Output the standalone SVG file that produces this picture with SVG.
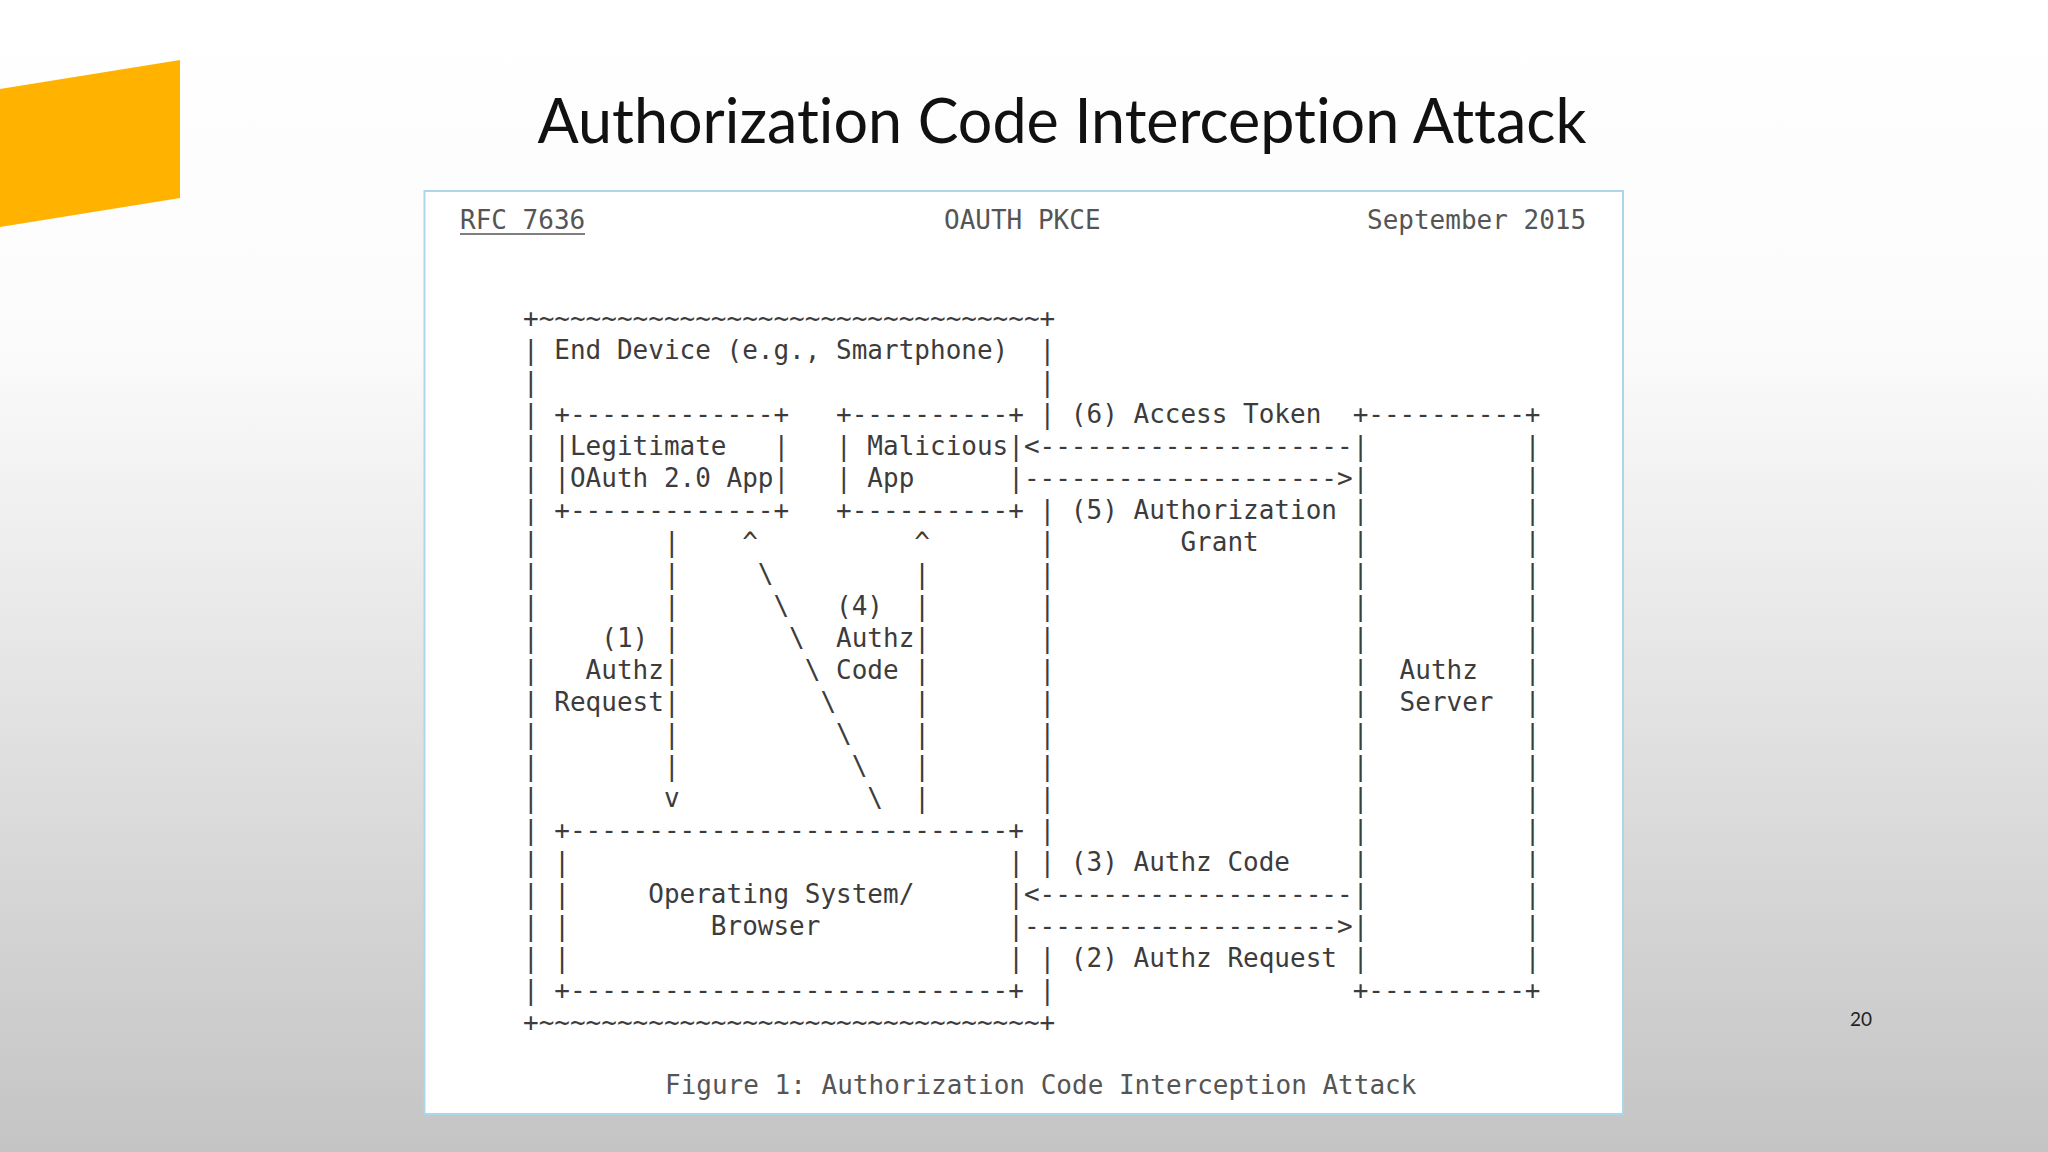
<svg xmlns="http://www.w3.org/2000/svg" width="2048" height="1152" viewBox="0 0 2048 1152">
<defs>
<linearGradient id="bg" x1="0" y1="0" x2="0" y2="1">
<stop offset="0" stop-color="#ffffff"/>
<stop offset="0.3" stop-color="#fbfbfb"/>
<stop offset="1" stop-color="#c4c4c4"/>
</linearGradient>
</defs>
<style>
.m{font-family:"DejaVu Sans Mono","Liberation Mono",monospace;font-size:26px;fill:#3c3c3c;white-space:pre}
.h{font-family:"DejaVu Sans Mono","Liberation Mono",monospace;font-size:26px;fill:#555}
</style>
<rect width="2048" height="1152" fill="url(#bg)"/>
<polygon points="0,89 180,60 180,198 0,227" fill="#FFB300"/>
<text x="1062" y="143" text-anchor="middle" font-family="Lato, 'Open Sans', sans-serif" font-size="61" fill="#111" style="font-variant-ligatures:none">Authorization Code Interception Attack</text>
<rect x="424.5" y="191" width="1198.5" height="923" fill="#ffffff" stroke="#aed6ea" stroke-width="2"/>
<text class="h" x="460" y="229">RFC 7636</text>
<line x1="460" y1="234" x2="585" y2="234" stroke="#555" stroke-width="1.5"/>
<text class="h" x="944" y="229">OAUTH PKCE</text>
<text class="h" x="1367" y="229">September 2015</text>
<text class="m" xml:space="preserve" x="523"><tspan x="523" y="327">+~~~~~~~~~~~~~~~~~~~~~~~~~~~~~~~~+</tspan><tspan x="523" y="359">| End Device (e.g., Smartphone)  |</tspan><tspan x="523" y="391">|                                |</tspan><tspan x="523" y="423">| +-------------+   +----------+ | (6) Access Token  +----------+</tspan><tspan x="523" y="455">| |Legitimate   |   | Malicious|&lt;--------------------|          |</tspan><tspan x="523" y="487">| |OAuth 2.0 App|   | App      |--------------------&gt;|          |</tspan><tspan x="523" y="519">| +-------------+   +----------+ | (5) Authorization |          |</tspan><tspan x="523" y="551">|        |    ^          ^       |        Grant      |          |</tspan><tspan x="523" y="583">|        |     \         |       |                   |          |</tspan><tspan x="523" y="615">|        |      \   (4)  |       |                   |          |</tspan><tspan x="523" y="647">|    (1) |       \  Authz|       |                   |          |</tspan><tspan x="523" y="679">|   Authz|        \ Code |       |                   |  Authz   |</tspan><tspan x="523" y="711">| Request|         \     |       |                   |  Server  |</tspan><tspan x="523" y="743">|        |          \    |       |                   |          |</tspan><tspan x="523" y="775">|        |           \   |       |                   |          |</tspan><tspan x="523" y="807">|        v            \  |       |                   |          |</tspan><tspan x="523" y="839">| +----------------------------+ |                   |          |</tspan><tspan x="523" y="871">| |                            | | (3) Authz Code    |          |</tspan><tspan x="523" y="903">| |     Operating System/      |&lt;--------------------|          |</tspan><tspan x="523" y="935">| |         Browser            |--------------------&gt;|          |</tspan><tspan x="523" y="967">| |                            | | (2) Authz Request |          |</tspan><tspan x="523" y="999">| +----------------------------+ |                   +----------+</tspan><tspan x="523" y="1031">+~~~~~~~~~~~~~~~~~~~~~~~~~~~~~~~~+</tspan></text>
<text class="h" x="665" y="1094">Figure 1: Authorization Code Interception Attack</text>
<text x="1861" y="1026" text-anchor="middle" font-family="Lato, sans-serif" font-size="19" fill="#222">20</text>
</svg>
